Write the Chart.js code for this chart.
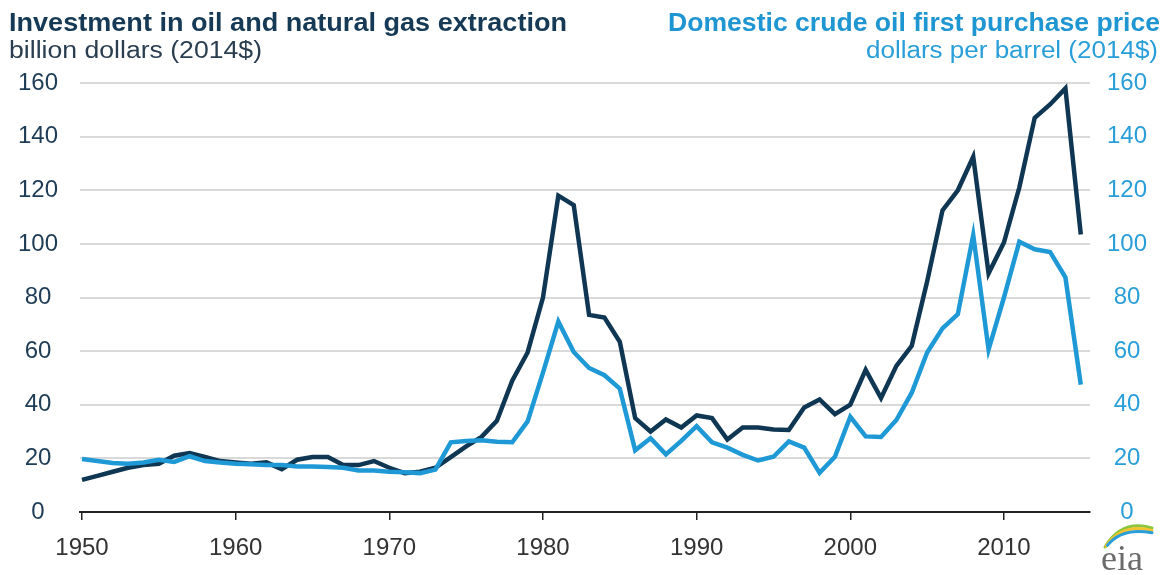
<!DOCTYPE html>
<html>
<head>
<meta charset="utf-8">
<script src="https://cdn.jsdelivr.net/npm/chart.js@4"></script>
<style>
  html, body { margin: 0; padding: 0; background: #fff; }
  #wrap { width: 1163px; height: 575px; position: relative; }
</style>
</head>
<body>
<div id="wrap"><canvas id="myChart"></canvas></div>
<script>
// years 1950..2015
const years = [];
for (let y = 1950; y <= 2015; y++) years.push(y);

// investment in oil and natural gas extraction, billion 2014$
const investment = [
  12, 13.5, 15, 16.5, 17.5, 18, 21, 22, 20.5, 19,
  18.5, 18, 18.5, 16, 19.5, 20.5, 20.5, 17.5, 17.5, 19,
  16.5, 14.5, 15, 16.5, 20.5, 24.5, 28, 34, 49, 59.5,
  80, 118, 114.5, 73.5, 72.5, 63.5, 35, 30, 34.5, 31.5,
  36, 35, 27, 31.5, 31.5, 30.8, 30.6, 39, 42, 36.5,
  40, 53, 42.5, 54.5, 62, 86, 112.5, 120, 132.5, 89,
  100.5, 121, 147, 152, 158, 103.5
];

// domestic crude oil first purchase price, 2014$ per barrel
const price = [
  19.8, 19, 18.3, 18, 18.5, 19.5, 18.7, 20.8, 19, 18.5,
  18, 17.8, 17.5, 17.5, 17, 17, 16.8, 16.5, 15.5, 15.5,
  15, 14.8, 14.5, 15.8, 26, 26.5, 26.8, 26.2, 26, 33.8,
  52, 71, 59.7, 53.7, 51, 46, 23, 27.5, 21.5, 26.5,
  32, 26, 24, 21.3, 19.2, 20.6, 26.3, 24, 14.6, 20.6,
  35.5, 28.2, 28, 34.3, 44.5, 59.5, 68.5, 73.8, 103.3, 60.6,
  80, 100.8, 98, 97, 87.5, 47.5
];

const xTicks = [1950, 1960, 1970, 1980, 1990, 2000, 2010];
const yTicks = [0, 20, 40, 60, 80, 100, 120, 140, 160];

const darkColor = '#0f3652';
const blueColor = '#1f99d6';

// draw text stretched to a given width
function fitText(ctx, text, x, y, w, font, color, align) {
  ctx.save();
  ctx.font = font;
  ctx.fillStyle = color;
  ctx.textBaseline = 'alphabetic';
  ctx.textAlign = 'left';
  const m = ctx.measureText(text).width;
  const sx = w / m;
  const left = align === 'right' ? x - w : x;
  ctx.translate(left, y);
  ctx.scale(sx, 1);
  ctx.fillText(text, 0, 0);
  ctx.restore();
}

const decor = {
  id: 'decor',
  beforeDraw(chart) {
    const ctx = chart.ctx;
    ctx.save();
    ctx.fillStyle = '#fff';
    ctx.fillRect(0, 0, chart.width, chart.height);
    ctx.restore();
  },
  afterDraw(chart) {
    const ctx = chart.ctx;
    fitText(ctx, 'Investment in oil and natural gas extraction', 9, 31, 558,
      'bold 26px "Liberation Sans", Arial, sans-serif', '#163a55', 'left');
    fitText(ctx, 'billion dollars (2014$)', 9, 58, 253,
      '23px "Liberation Sans", Arial, sans-serif', '#2a3e50', 'left');
    fitText(ctx, 'Domestic crude oil first purchase price', 1160, 31, 492,
      'bold 26px "Liberation Sans", Arial, sans-serif', '#1f96d2', 'right');
    fitText(ctx, 'dollars per barrel (2014$)', 1158, 58, 292,
      '23px "Liberation Sans", Arial, sans-serif', '#2a9ed8', 'right');

    // eia logo
    ctx.save();
    ctx.lineWidth = 3;
    ctx.lineCap = 'round';
    const arcs = [['#8cc63f', 0], ['#f2c230', 4], ['#2a9ed8', 8]];
    arcs.forEach(([c, d]) => {
      ctx.strokeStyle = c;
      ctx.beginPath();
      ctx.moveTo(1105 + d * 0.3, 547 - d * 0.2);
      ctx.quadraticCurveTo(1122, 519 + d, 1152, 528 + d * 0.6);
      ctx.stroke();
    });
    ctx.fillStyle = '#6b6b6b';
    ctx.font = '36px "Liberation Serif", "DejaVu Serif", serif';
    ctx.textBaseline = 'alphabetic';
    ctx.fillText('eia', 1101, 570);
    ctx.restore();
  }
};

const ctx = document.getElementById('myChart');

const myChart = new Chart(ctx, {
  type: 'line',
  data: {
    datasets: [
      {
        label: 'Domestic crude oil first purchase price',
        data: years.map((y, i) => ({ x: y, y: price[i] })),
        borderColor: blueColor,
        borderWidth: 4.5,
        pointRadius: 0,
        yAxisID: 'y1',
        order: 1
      },
      {
        label: 'Investment in oil and natural gas extraction',
        data: years.map((y, i) => ({ x: y, y: investment[i] })),
        borderColor: darkColor,
        borderWidth: 4.5,
        pointRadius: 0,
        yAxisID: 'y',
        order: 2
      }
    ]
  },
  options: {
    responsive: true,
    maintainAspectRatio: false,
    animation: false,
    events: [],
    layout: { padding: { top: 83, left: 0, right: 0, bottom: 0 } },
    plugins: { legend: { display: false }, tooltip: { enabled: false } },
    scales: {
      x: {
        type: 'linear',
        min: 1949.87,
        max: 2015.6,
        afterBuildTicks: s => { s.ticks = xTicks.map(v => ({ value: v })); },
        afterFit: s => { s.height = 63; },
        grid: { drawOnChartArea: false, drawTicks: true, tickLength: 8, color: '#222', lineWidth: 1.5 },
        border: { display: true, color: '#222', width: 2 },
        ticks: {
          padding: 14,
          color: '#333',
          font: { family: '"Liberation Sans", Arial, sans-serif', size: 24 },
          callback: v => String(v)
        }
      },
      y: {
        position: 'left',
        min: 0,
        max: 160,
        afterBuildTicks: s => { s.ticks = yTicks.map(v => ({ value: v })); },
        afterFit: s => { s.width = 80; },
        grid: {
          drawTicks: false,
          lineWidth: 2,
          color: c => (c.tick && c.tick.value === 0) ? 'rgba(0,0,0,0)' : '#d9d9d9'
        },
        border: { display: false },
        ticks: {
          padding: 22,
          crossAlign: 'center',
          color: '#1f3c56',
          font: { family: '"Liberation Sans", Arial, sans-serif', size: 24 }
        }
      },
      y1: {
        position: 'right',
        min: 0,
        max: 160,
        afterBuildTicks: s => { s.ticks = yTicks.map(v => ({ value: v })); },
        afterFit: s => { s.width = 73; },
        grid: { display: false, drawOnChartArea: false },
        border: { display: false },
        ticks: {
          padding: 9,
          crossAlign: 'center',
          color: '#2a9ed8',
          font: { family: '"Liberation Sans", Arial, sans-serif', size: 24 }
        }
      }
    }
  },
  plugins: [decor]
});
</script>
</body>
</html>
